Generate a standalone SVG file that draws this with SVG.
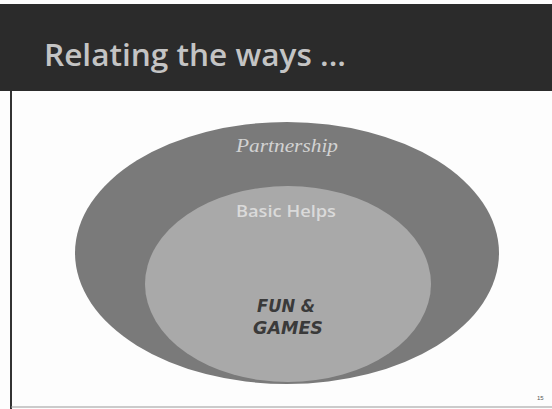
<svg xmlns="http://www.w3.org/2000/svg" width="552" height="409" viewBox="0 0 552 409">
<style>
.lbl{text-anchor:middle}
</style>
<rect x="0" y="0" width="552" height="409" fill="#fdfdfd"/>
<rect x="0" y="4" width="552" height="87" fill="#2b2b2b"/>
<line x1="11" y1="91" x2="11" y2="409" stroke="#333" stroke-width="2"/>
<line x1="11" y1="407" x2="552" y2="407" stroke="#999" stroke-width="1"/>
<text x="44" y="66" font-family="'Open Sans', 'Noto Sans', sans-serif" font-weight="600" font-size="30" fill="#c4c4c4" textLength="302" lengthAdjust="spacingAndGlyphs">Relating the ways ...</text>
<g id="partnership">
<ellipse cx="287" cy="253" rx="212" ry="131" fill="#7a7a7a"/>
<text class="lbl" x="287" y="152" font-family="'Liberation Serif', serif" font-style="italic" font-size="19" fill="#d2d2d2" textLength="102" lengthAdjust="spacingAndGlyphs">Partnership</text>
</g>
<g id="basic-helps">
<ellipse cx="288" cy="284" rx="143" ry="98" fill="#a9a9a9"/>
<text class="lbl" x="286" y="217" font-family="'Open Sans', 'Noto Sans', sans-serif" font-weight="600" font-size="16" fill="#dadada" textLength="100" lengthAdjust="spacingAndGlyphs">Basic Helps</text>
</g>
<g id="fun-games">
<text class="lbl" x="286" y="312" font-family="'DejaVu Sans', sans-serif" font-weight="bold" font-style="italic" font-size="17" fill="#3a3a3a" textLength="58" lengthAdjust="spacingAndGlyphs">FUN &amp;</text>
<text class="lbl" x="288" y="334" font-family="'DejaVu Sans', sans-serif" font-weight="bold" font-style="italic" font-size="17" fill="#3a3a3a" textLength="70" lengthAdjust="spacingAndGlyphs">GAMES</text>
</g>
<text x="537" y="400" font-family="'Liberation Sans', sans-serif" font-size="6" fill="#555">15</text>
</svg>
